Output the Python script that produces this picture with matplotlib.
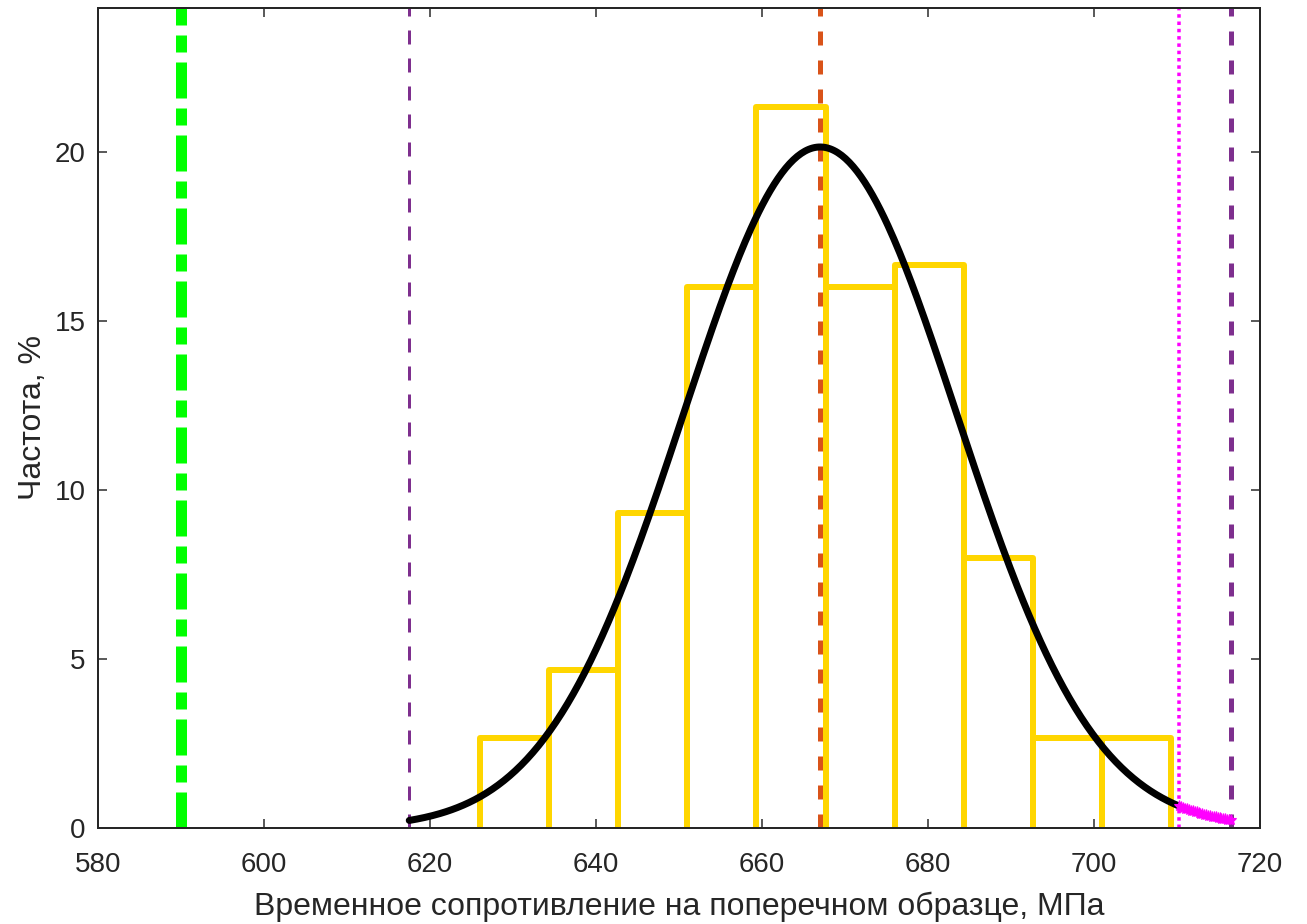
import numpy as np
import matplotlib.pyplot as plt

plt.rcParams['font.family'] = ['Liberation Sans', 'DejaVu Sans']

# гистограмма: границы интервалов (МПа) и частоты (%)
bin_edges = [626.0, 634.33, 642.67, 651.0, 659.33, 667.67, 676.0, 684.33, 692.67, 701.0, 709.33]
freq_pct = [2.67, 4.67, 9.33, 16.0, 21.33, 16.0, 16.67, 8.0, 2.67, 2.67]

# параметры нормального распределения
mu = 667.0
sigma = 16.5
bin_width = 8.333
x_max_sample = 710.3     # граница чёрной части кривой
x_norm = 590.0           # нормативное значение
x_low3s = mu - 3 * sigma
x_high3s = mu + 3 * sigma

DPI = 100
fig = plt.figure(figsize=(13.07, 9.24), dpi=DPI)
ax = fig.add_axes([98 / 1307, 96 / 924, 1162 / 1307, 820 / 924])


def px(v):
    return v * 72.0 / DPI


# столбцы гистограммы (контур без нижней стороны)
yellow = (1.0, 0.84, 0.0)
for i, h in enumerate(freq_pct):
    x0, x1 = bin_edges[i], bin_edges[i + 1]
    ax.plot([x0, x0, x1, x1], [0, h, h, 0], color=yellow, lw=px(6),
            solid_joinstyle='round', solid_capstyle='butt', zorder=2)

# аппроксимация нормальным законом
def norm_pct(x):
    return 100 * bin_width * np.exp(-(x - mu) ** 2 / (2 * sigma ** 2)) / (sigma * np.sqrt(2 * np.pi))


xs = np.linspace(x_low3s, x_max_sample, 400)
ax.plot(xs, norm_pct(xs), color='k', lw=px(7), zorder=4, solid_capstyle='round')
xt = np.linspace(x_max_sample, x_high3s, 28)
ax.plot(xt, norm_pct(xt), ls='none', marker='*', color=(1, 0, 1), ms=8, mew=0.8,
        zorder=4, clip_on=False)

# вертикальные линии
ax.axvline(x_norm, color=(0, 1, 0), lw=px(11),
           dashes=[36 / 11, 10 / 11, 17 / 11, 10 / 11], zorder=3)
ax.axvline(x_low3s, color=(0.494, 0.184, 0.556), lw=px(3),
           dashes=[14 / 3, 14 / 3], zorder=3)
ax.axvline(x_high3s, color=(0.494, 0.184, 0.556), lw=px(5),
           dashes=[14 / 5, 15 / 5], zorder=3)
ax.axvline(mu, color=(0.85, 0.325, 0.098), lw=px(5),
           dashes=[14 / 5, 15 / 5], zorder=3)
ax.axvline(x_max_sample, color=(1, 0, 1), lw=px(3.5),
           dashes=[3.5 / 3.5, 3.8 / 3.5], zorder=3)

ax.set_xlim(580, 720)
ax.set_ylim(0, 24.26)
ax.set_xticks(np.arange(580, 721, 20))
ax.set_yticks([0, 5, 10, 15, 20])
ax.tick_params(direction='in', length=px(9), width=px(1.5), labelsize=20,
               top=True, right=True, colors=(0.15, 0.15, 0.15), pad=9)
ax.tick_params(axis='x', pad=17)
for s in ax.spines.values():
    s.set_color((0.15, 0.15, 0.15))
    s.set_linewidth(px(2))
    s.set_zorder(5)

ax.set_xlabel('Временное сопротивление на поперечном образце, МПа', fontsize=23,
              color=(0.15, 0.15, 0.15), labelpad=10)
ax.set_ylabel('Частота, %', fontsize=23, color=(0.15, 0.15, 0.15), labelpad=5)

fig.savefig('out.png', dpi=DPI, facecolor='white')
